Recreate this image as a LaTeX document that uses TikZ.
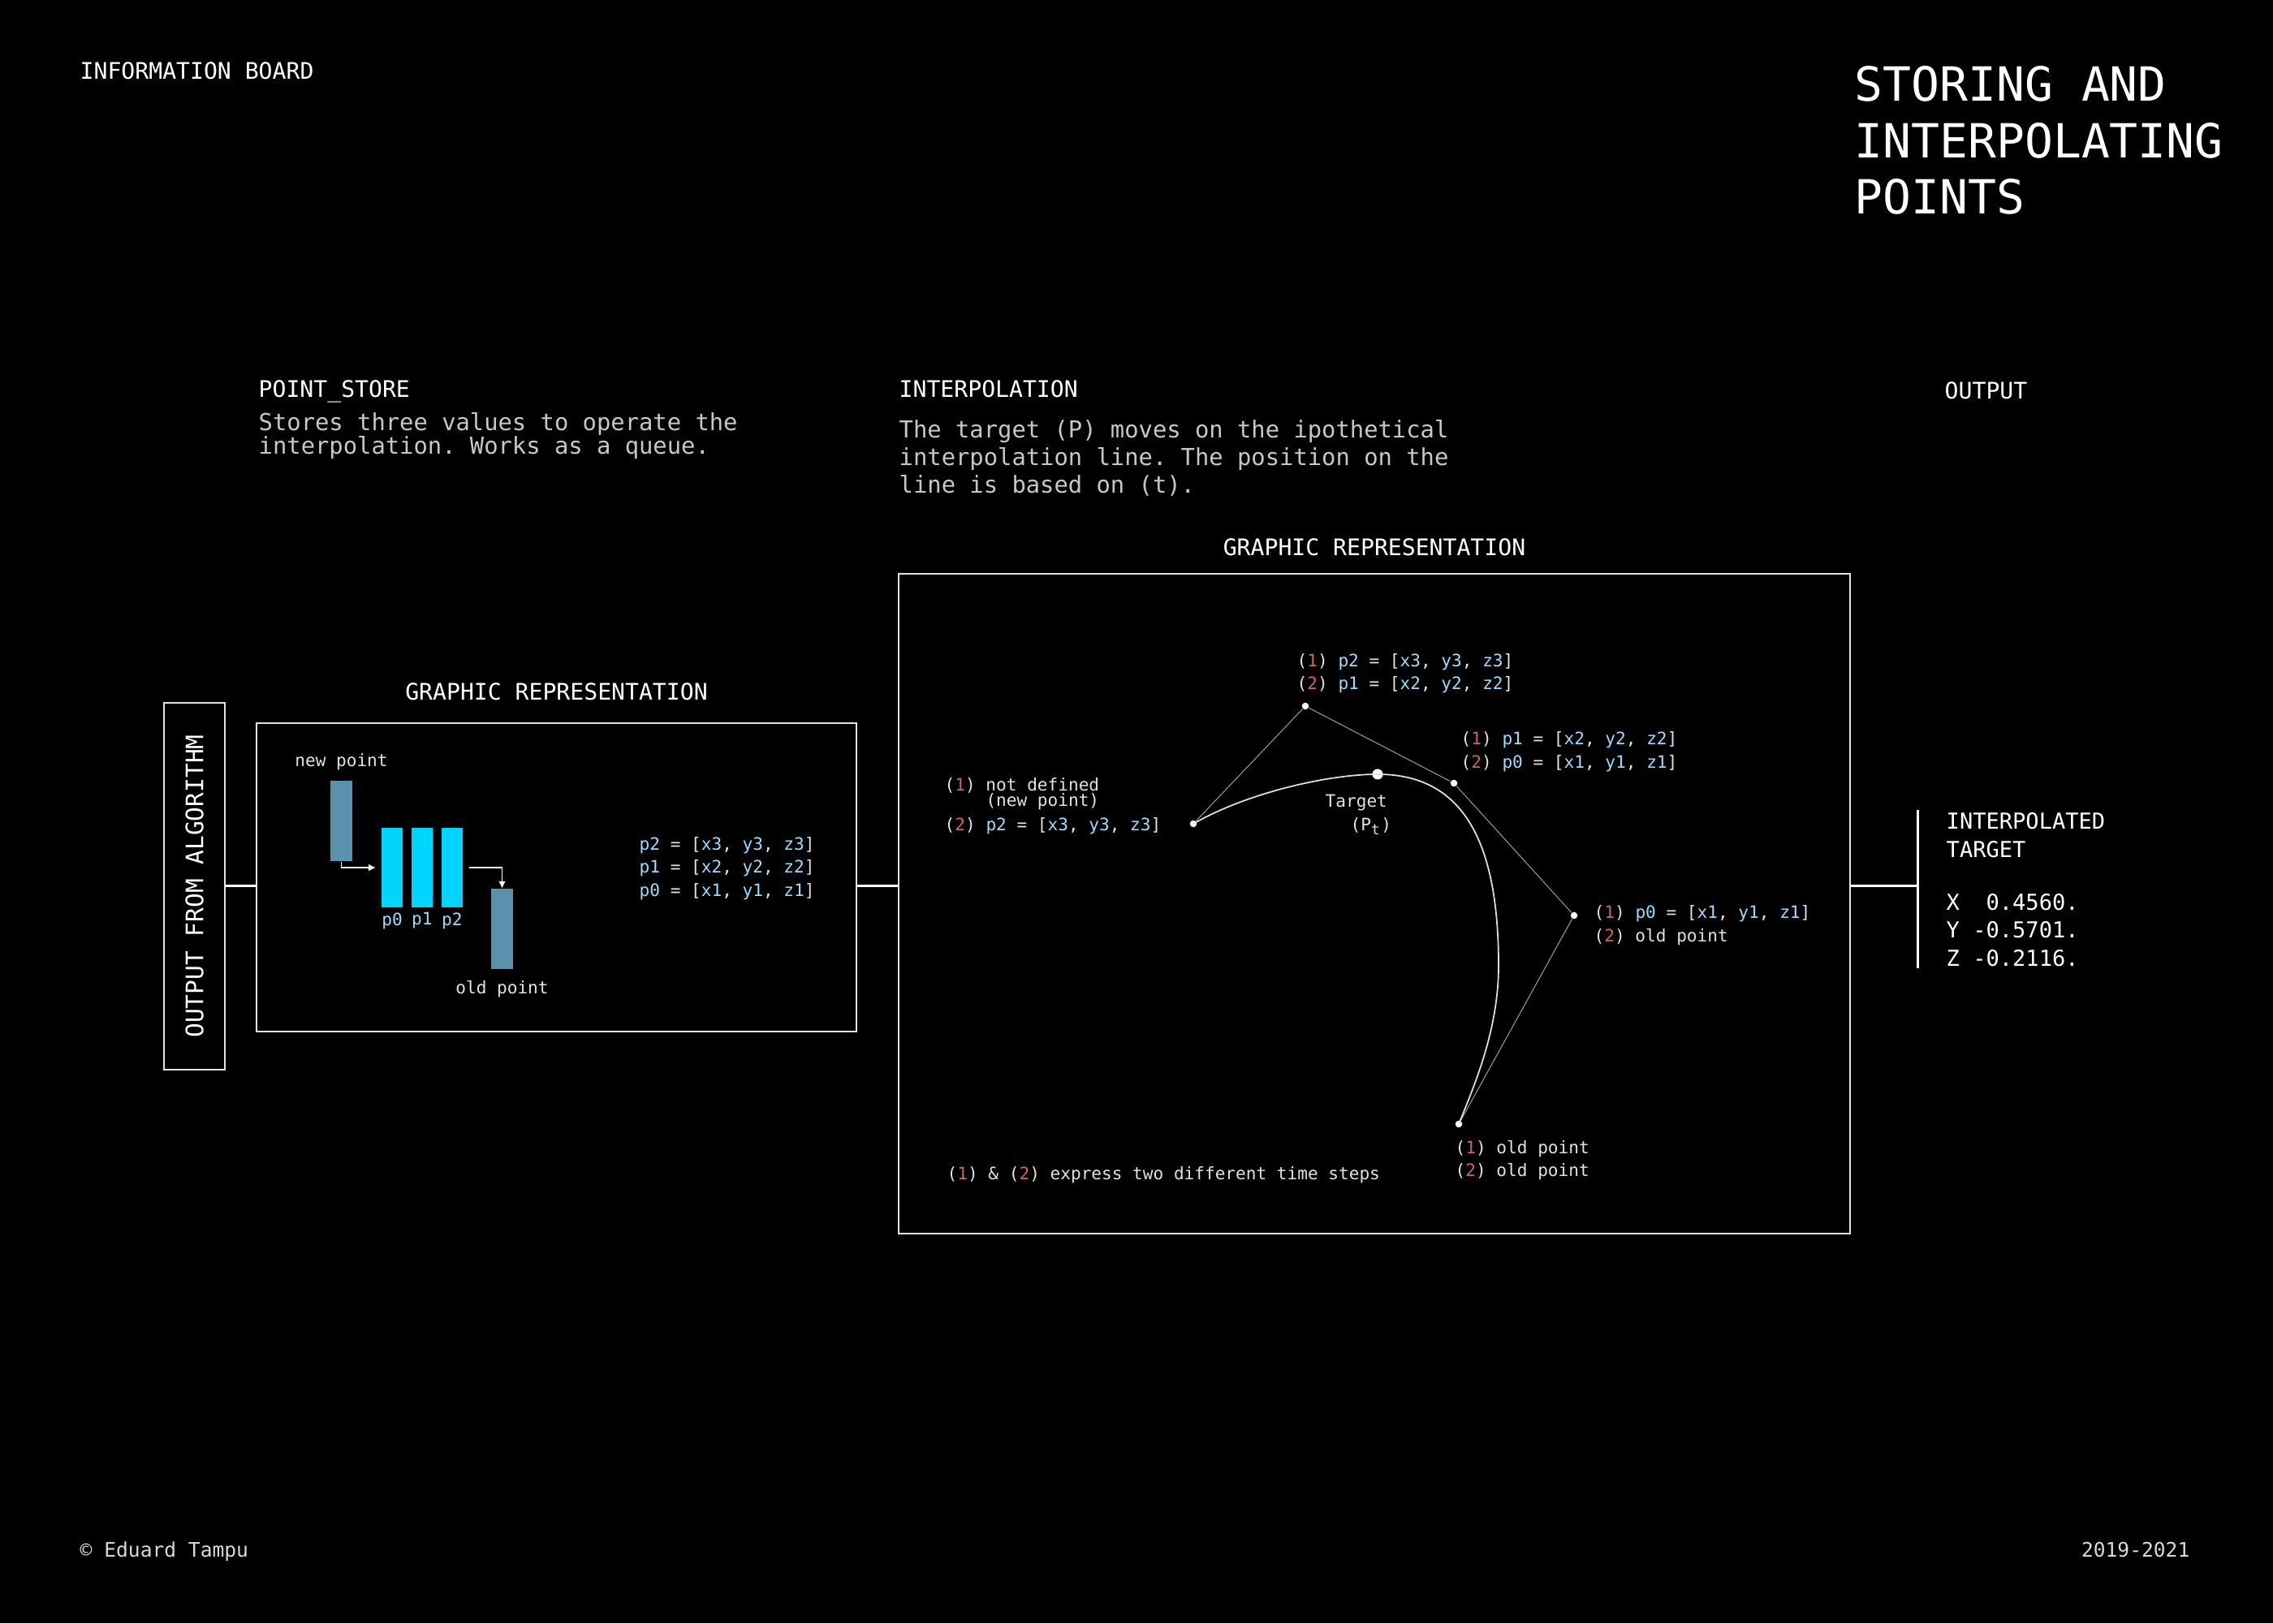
\documentclass[tikz,border=0pt]{standalone}
\usepackage{fontspec}
\setmonofont{DejaVu Sans Mono}
\usetikzlibrary{positioning,arrows.meta}

\definecolor{codeblue}{HTML}{9CDCFE}
\definecolor{stepred}{HTML}{CD6468}
\definecolor{queueblue}{HTML}{5A91AD}
\definecolor{queuecyan}{HTML}{00D4FF}
\definecolor{softwhite}{HTML}{E2E2E2}

\newcommand{\stepone}{(\textcolor{stepred}{1})}
\newcommand{\steptwo}{(\textcolor{stepred}{2})}
\newcommand{\cblue}[1]{\textcolor{codeblue}{#1}}
\newcommand{\ptvec}[4]{\cblue{#1} = [\cblue{#2}, \cblue{#3}, \cblue{#4}]}

\tikzset{
  frame/.style={draw=softwhite, line width=0.6pt, inner sep=0pt},
  head/.style={font=\ttfamily\fontsize{8}{10}\selectfont, text=white, inner sep=0pt},
  desc/.style={font=\ttfamily\fontsize{8.2}{8.3}\selectfont, text=white!78!black, inner sep=0pt, align=left},
  code/.style={font=\ttfamily\fontsize{6}{8.1}\selectfont, text=softwhite, inner sep=0pt, align=left},
  foot/.style={font=\ttfamily\fontsize{7}{8}\selectfont, text=white!85!black, inner sep=0pt},
  link/.style={draw=white, line width=0.85pt},
  qbar/.style={fill=queuecyan, inner sep=0pt, minimum width=0.265cm, minimum height=0.98cm},
  obar/.style={fill=queueblue, inner sep=0pt, minimum width=0.27cm, minimum height=0.99cm},
  qarrow/.style={draw=white, line width=0.5pt, -{Latex[length=0.9mm,width=0.9mm]}},
  dot/.style={circle, fill=white, inner sep=0pt, minimum size=0.085cm},
  ctrl/.style={draw=gray!80, line width=0.3pt},
  spline/.style={draw=white!88!black, line width=0.5pt}
}

\begin{document}
\begin{tikzpicture}

\useasboundingbox (0,0) rectangle (28,20);
\fill[black] (0,0) rectangle (28,20);

\node[head, anchor=base west] (board) at (0.98,19.02) {INFORMATION BOARD};
\node[anchor=base west, inner sep=0pt, align=left, text=white, font=\ttfamily\fontsize{16.5}{19.8}\selectfont] (title) at (22.84,17.36) {STORING AND\\INTERPOLATING\\POINTS};

\node[head, anchor=base west] (storehead) at (3.18,15.10) {POINT\_STORE};
\node[desc, anchor=base west] (storedesc) at (3.18,14.40) {Stores three values to operate the\\interpolation. Works as a queue.};
\node[head, anchor=base west] (interphead) at (11.07,15.10) {INTERPOLATION};
\node[desc, anchor=base west, font=\ttfamily\fontsize{8.2}{9.7}\selectfont] (interpdesc) at (11.07,13.92) {The target (P) moves on the ipothetical\\interpolation line. The position on the\\line is based on (t).};
\node[head, anchor=base west] (outhead) at (23.95,15.08) {OUTPUT};

\node[frame, minimum width=0.75cm, minimum height=4.52cm] (algo) at (2.395,9.08) {};
\node[head, rotate=90, font=\ttfamily\fontsize{8.4}{10}\selectfont] (algotext) at (algo.center) {OUTPUT FROM ALGORITHM};
\node[frame, minimum width=7.39cm, minimum height=3.80cm] (store) at (6.855,9.19) {};
\node[frame, minimum width=11.72cm, minimum height=8.13cm] (interp) at (16.93,8.865) {};
\node[head, above=0.26cm of store] (storegraph) {GRAPHIC REPRESENTATION};
\node[head, above=0.20cm of interp] (interpgraph) {GRAPHIC REPRESENTATION};

\coordinate (outtop) at (23.62,10.02);
\coordinate (outbot) at (23.62,8.07);
\draw[link] (algo.east) -- (algo.east -| store.west);
\draw[link] (store.east |- algo.east) -- (algo.east -| interp.west);
\draw[link] (interp.east |- algo.east) -- (algo.east -| outtop);
\draw[link] (outtop) -- (outbot);
\node[anchor=west, inner sep=0pt, align=left, text=white, font=\ttfamily\fontsize{7.7}{9.8}\selectfont] (outval) at (23.97,9.04) {INTERPOLATED\\TARGET\\[8.7pt]X\ \ 0.4560.\\Y -0.5701.\\Z -0.2116.};

\node[obar] (newbar) at (4.205,9.885) {};
\node[qbar] (bar0) at (4.83,9.31) {};
\node[qbar, right=0.09cm of bar0] (bar1) {};
\node[qbar, right=0.09cm of bar1] (bar2) {};
\node[obar] (oldbar) at (6.185,8.55) {};
\node[code, above=0.12cm of newbar] (newlabel) {new point};
\node[code, below=0.12cm of oldbar] (oldlabel) {old point};
\node[code, text=codeblue, below=0.05cm of bar0] (lab0) {p0};
\node[code, text=codeblue, below=0.05cm of bar1] (lab1) {p1};
\node[code, text=codeblue, below=0.05cm of bar2] (lab2) {p2};
\draw[qarrow, shorten >=0.6mm] (newbar.south) |- (bar0.west);
\draw[qarrow, shorten <=0.7mm] (bar2.east) -| (oldbar.north);
\node[code, anchor=west] (storevals) at (7.87,9.30) {\ptvec{p2}{x3}{y3}{z3}\\\ptvec{p1}{x2}{y2}{z2}\\\ptvec{p0}{x1}{y1}{z1}};

\node[dot] (pnew) at (14.70,9.85) {};
\node[dot] (ptop) at (16.08,11.30) {};
\node[dot] (pmid) at (17.91,10.35) {};
\node[dot] (pright) at (19.39,8.72) {};
\node[dot] (pold) at (17.97,6.15) {};
\node[dot, minimum size=0.13cm] (target) at (16.97,10.46) {};
\draw[ctrl] (pnew) -- (ptop) -- (pmid) -- (pright) -- (pold);
\draw[spline] (pnew.center) .. controls (15.40,10.25) and (16.40,10.46) .. (target.center)
  .. controls (18.10,10.46) and (18.46,9.50) .. (18.46,8.10)
  .. controls (18.46,7.30) and (18.15,6.60) .. (pold.center);

\node[code, anchor=west] (lnew) at (11.63,10.07) {\stepone{} not defined\\[-2.7pt]\phantom{(1)~}(new point)\\[0.5pt]\steptwo{} \ptvec{p2}{x3}{y3}{z3}};
\node[code, anchor=west] (ltop) at (15.97,11.705) {\stepone{} \ptvec{p2}{x3}{y3}{z3}\\\steptwo{} \ptvec{p1}{x2}{y2}{z2}};
\node[code, anchor=west] (lmid) at (17.99,10.74) {\stepone{} \ptvec{p1}{x2}{y2}{z2}\\\steptwo{} \ptvec{p0}{x1}{y1}{z1}};
\node[code, anchor=west] (lright) at (19.63,8.60) {\stepone{} \ptvec{p0}{x1}{y1}{z1}\\\steptwo{} old point};
\node[code, anchor=west] (lold) at (17.92,5.705) {\stepone{} old point\\\steptwo{} old point};
\node[code, anchor=west] (ltarget) at (16.32,9.96) {Target\\\hspace*{8.8pt}(P\textsubscript{t})};
\node[code, anchor=west] (note) at (11.66,5.52) {\stepone{} \& \steptwo{} express two different time steps};

\node[foot, anchor=base west] (copy) at (0.98,0.82) {© Eduard Tampu};
\node[foot, anchor=base east] (years) at (26.98,0.82) {2019-2021};

\end{tikzpicture}
\end{document}
